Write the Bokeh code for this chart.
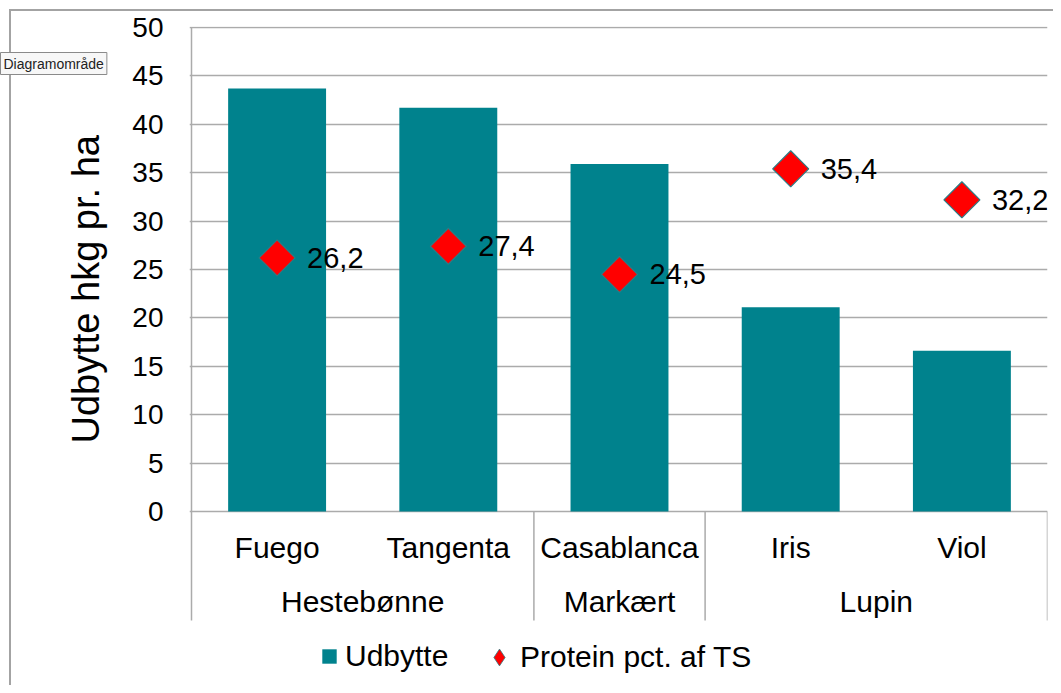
import math
from bokeh.plotting import figure
from bokeh.models import Range1d, FixedTicker, Legend, LegendItem, Title
from bokeh.core.properties import value
from bokeh.embed import file_html
from bokeh.resources import INLINE

# ---------------- data ----------------
varieties = ["Fuego", "Tangenta", "Casablanca", "Iris", "Viol"]
crops = ["Hestebønne", "Hestebønne", "Markært", "Lupin", "Lupin"]
udbytte = [43.7, 41.7, 35.9, 21.1, 16.6]
protein = [26.2, 27.4, 24.5, 35.4, 32.2]
y_ticks = [0, 5, 10, 15, 20, 25, 30, 35, 40, 45, 50]
series_names = ["Udbytte", "Protein pct. af TS"]
y_title = "Udbytte hkg pr. ha"
tooltip_text = "Diagramområde"

# ---------------- style / layout ----------------
FONT = "Liberation Sans"
TEAL = "#00828d"
RED = "#ff0000"
EDGE = "#2b7c85"
GRID = "#ababab"
BORDER = "#a3a3a3"
FS_TICK = "28px"
FS_WORD = "30px"
FS_VAL = "29px"

FIG_W, FIG_H = 1053, 685
FRAME_L, FRAME_R, FRAME_T = 189, 1047, 26
FRAME_B = FIG_H
Y0_PX, YTOP_PX = 511, 27
X0_PX, XEND_PX = 191, 1047
n = len(varieties)
PX_PER_Y = (Y0_PX - YTOP_PX) / max(y_ticks)
PX_PER_CAT = (XEND_PX - X0_PX) / n


def px_x(px):
    return (px - X0_PX) / PX_PER_CAT


def px_y(py):
    return (Y0_PX - py) / PX_PER_Y


p = figure(width=FIG_W, height=FIG_H, output_backend="svg", toolbar_location=None,
           x_range=Range1d(px_x(FRAME_L), px_x(FRAME_R)),
           y_range=Range1d(px_y(FRAME_B), px_y(FRAME_T)),
           x_axis_location=None,
           min_border_left=FRAME_L, min_border_right=FIG_W - FRAME_R,
           min_border_top=FRAME_T, min_border_bottom=0)
p.outline_line_color = None
p.background_fill_color = "white"
p.border_fill_alpha = 0
# chart-area border (top and left edges) painted behind the transparent canvas border
p.styles = {
    "background": (f"linear-gradient({BORDER}, {BORDER}) 9px 9px / 2px 100% no-repeat, "
                   f"linear-gradient({BORDER}, {BORDER}) 9px 9px / 100% 2px no-repeat, white"),
}
p.xgrid.visible = False

yax = p.yaxis[0]
yax.ticker = FixedTicker(ticks=y_ticks)
yax.axis_line_color = None
yax.major_tick_out = 0
yax.major_tick_in = 0
yax.minor_tick_out = 0
yax.minor_tick_in = 0
yax.major_label_text_font = FONT
yax.major_label_text_font_size = FS_TICK
yax.major_label_text_color = "black"
yax.major_label_standoff = 26
p.ygrid.grid_line_color = GRID
p.ygrid.grid_line_width = 1.5

# y title as a side-panel title
p.add_layout(Title(text=y_title, align="left", offset=242, standoff=46,
                   text_font=FONT, text_font_size="38px", text_font_style="normal",
                   text_color="black"), "left")

# hover tooltip "Diagramområde" (a title box pushed down to the tooltip position)
p.add_layout(Title(text=tooltip_text, align="left", offset=-FRAME_L, standoff=-96,
                   text_font=FONT, text_font_size="14px", text_font_style="normal",
                   text_color="#222222", background_fill_color="#f7f7f7",
                   border_line_color="#8a8a8a", padding=3), "above")

xs = [i + 0.5 for i in range(n)]

# bars
bars = p.vbar(x=xs, top=udbytte, width=0.572, bottom=0, fill_color=TEAL, line_color=None)

# axis line + category table lines
table_bottom = px_y(620)
p.segment(x0=[0], y0=[table_bottom], x1=[0], y1=[max(y_ticks)], line_color=GRID, line_width=1.5)
groups = []
start = 0
for i in range(1, n + 1):
    if i == n or crops[i] != crops[start]:
        groups.append((crops[start], start, i))
        start = i
bounds = [g[2] for g in groups]
p.segment(x0=bounds, y0=[0] * len(bounds), x1=bounds, y1=[table_bottom] * len(bounds),
          line_color=GRID, line_width=1.5)

# category labels
p.text(x=xs, y=[px_y(547)] * n, text=varieties, text_font=value(FONT), text_font_size=FS_WORD,
       text_align="center", text_baseline="middle", text_color="black")
p.text(x=[(g[1] + g[2]) / 2 for g in groups], y=[px_y(601)] * len(groups),
       text=[g[0] for g in groups], text_font=value(FONT), text_font_size=FS_WORD,
       text_align="center", text_baseline="middle", text_color="black")

# protein diamonds + labels
p.scatter(x=xs, y=protein, marker="square", angle=math.pi / 4, size=25.5,
          fill_color=RED, line_color=EDGE, line_width=1.2)
p.text(x=xs, y=protein, text=[f"{v:.1f}".replace(".", ",") for v in protein],
       x_offset=30, text_font=value(FONT), text_font_size=FS_VAL,
       text_align="left", text_baseline="middle", text_color="black")

# legend (a hidden diamond renderer supplies the legend symbol)
legend_marker = p.scatter(x=xs, y=protein, marker="diamond", fill_color=RED,
                          line_color=EDGE, line_width=0.8, visible=False)
leg1 = Legend(items=[LegendItem(label=series_names[0], renderers=[bars])],
              location=(320 - FRAME_L, FRAME_B - 673), orientation="horizontal",
              glyph_width=18, glyph_height=18, label_standoff=7, padding=0, margin=0,
              border_line_color=None, background_fill_alpha=0,
              label_text_font=FONT, label_text_font_size=FS_WORD, label_text_color="black")
leg2 = Legend(items=[LegendItem(label=series_names[1], renderers=[legend_marker])],
              location=(478 - FRAME_L, FRAME_B - 678), orientation="horizontal",
              glyph_width=42, glyph_height=42, label_standoff=0, padding=0, margin=0,
              border_line_color=None, background_fill_alpha=0,
              label_text_font=FONT, label_text_font_size=FS_WORD, label_text_color="black")
p.add_layout(leg1)
p.add_layout(leg2)

open("out.html", "w").write(file_html(p, INLINE))
